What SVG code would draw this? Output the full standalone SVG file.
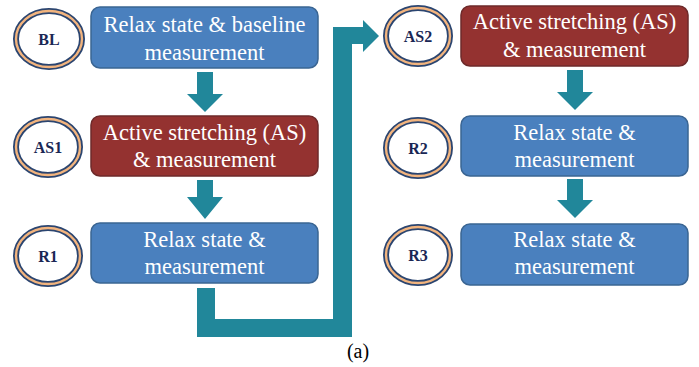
<svg xmlns="http://www.w3.org/2000/svg" width="699" height="367" viewBox="0 0 699 367">
<style>
.box{stroke-width:1.5;}
.blue{fill:#4A80BE;stroke:#3A6593;}
.red{fill:#943230;stroke:#6E2A2A;}
.t{font-family:'Liberation Serif','Times New Roman',Times,'DejaVu Serif',serif;font-size:22.5px;fill:#FFFFFF;text-anchor:middle;}
.ringo{fill:#FFFFFF;stroke:#2B4570;stroke-width:6;}
.ringi{fill:none;stroke:#F2B47E;stroke-width:2.4;}
.lab{font-family:'Liberation Serif','Times New Roman',Times,'DejaVu Serif',serif;font-size:16px;font-weight:bold;fill:#1A2755;text-anchor:middle;}
.cap{font-family:'Liberation Serif','Times New Roman',Times,'DejaVu Serif',serif;font-size:20px;fill:#000000;text-anchor:middle;}
.arr{fill:#21879A;}
</style>
<rect width="699" height="367" fill="#FFFFFF"/>
<g id="connectors">
<polygon class="arr" points="197,72 213,72 213,94 223,94 205,112 187,94 197,94"/>
<polygon class="arr" points="197,180 213,180 213,197 223,197 205,219 187,197 197,197"/>
<polygon class="arr" points="567,70 583,70 583,92 593,92 575,110 557,92 567,92"/>
<polygon class="arr" points="567,179 583,179 583,200 593,200 575,218 557,200 567,200"/>
<polygon class="arr" points="333,27 363,27 363,20 379,36 363,52 363,44 352,44 352,337 197,337 197,288 215,288 215,319 333,319"/>
</g>
<g id="BL">
<ellipse class="ringo" cx="49" cy="39" rx="33" ry="28"/>
<ellipse class="ringi" cx="49" cy="39" rx="33" ry="28"/>
<text class="lab" x="49" y="45">BL</text>
</g>
<g id="box-BL">
<rect class="box blue" x="91" y="7" width="227" height="61" rx="9"/>
<text class="t" x="204.5" y="32">Relax state &amp; baseline</text>
<text class="t" x="204.5" y="60">measurement</text>
</g>
<g id="AS1">
<ellipse class="ringo" cx="48" cy="147" rx="32" ry="28"/>
<ellipse class="ringi" cx="48" cy="147" rx="32" ry="28"/>
<text class="lab" x="48" y="153">AS1</text>
</g>
<g id="box-AS1">
<rect class="box red" x="91" y="116" width="227" height="60" rx="9"/>
<text class="t" x="204.5" y="140">Active stretching (AS)</text>
<text class="t" x="204.5" y="167">&amp; measurement</text>
</g>
<g id="R1">
<ellipse class="ringo" cx="48" cy="256" rx="32" ry="28"/>
<ellipse class="ringi" cx="48" cy="256" rx="32" ry="28"/>
<text class="lab" x="48" y="262">R1</text>
</g>
<g id="box-R1">
<rect class="box blue" x="91" y="223" width="227" height="60" rx="9"/>
<text class="t" x="204.5" y="247">Relax state &amp;</text>
<text class="t" x="204.5" y="274">measurement</text>
</g>
<g id="AS2">
<ellipse class="ringo" cx="418" cy="36" rx="32" ry="28"/>
<ellipse class="ringi" cx="418" cy="36" rx="32" ry="28"/>
<text class="lab" x="418" y="42">AS2</text>
</g>
<g id="box-AS2">
<rect class="box red" x="461" y="6" width="227" height="60" rx="9"/>
<text class="t" x="574.5" y="29">Active stretching (AS)</text>
<text class="t" x="574.5" y="57">&amp; measurement</text>
</g>
<g id="R2">
<ellipse class="ringo" cx="418" cy="148" rx="32" ry="28"/>
<ellipse class="ringi" cx="418" cy="148" rx="32" ry="28"/>
<text class="lab" x="418" y="154">R2</text>
</g>
<g id="box-R2">
<rect class="box blue" x="461" y="116" width="227" height="60" rx="9"/>
<text class="t" x="574.5" y="140">Relax state &amp;</text>
<text class="t" x="574.5" y="167">measurement</text>
</g>
<g id="R3">
<ellipse class="ringo" cx="418" cy="255" rx="32" ry="28"/>
<ellipse class="ringi" cx="418" cy="255" rx="32" ry="28"/>
<text class="lab" x="418" y="261">R3</text>
</g>
<g id="box-R3">
<rect class="box blue" x="461" y="224" width="227" height="61" rx="9"/>
<text class="t" x="574.5" y="247">Relax state &amp;</text>
<text class="t" x="574.5" y="274">measurement</text>
</g>
<text class="cap" x="358" y="358">(a)</text>
</svg>
